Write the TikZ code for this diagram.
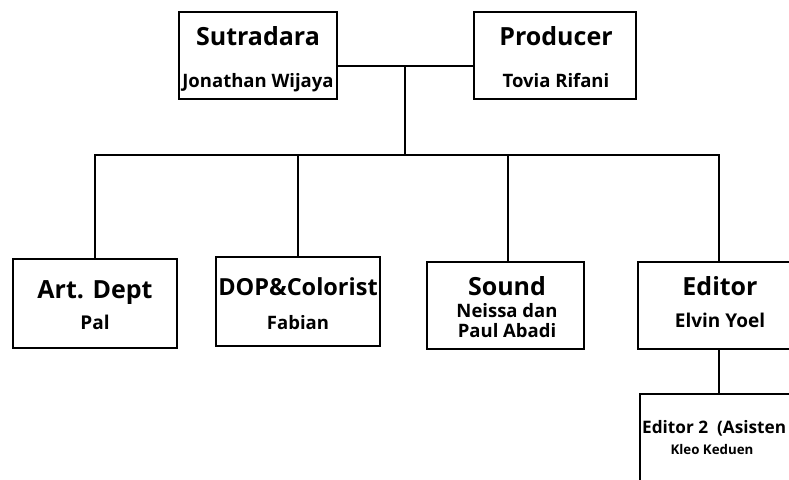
\documentclass[tikz,border=0pt]{standalone}
\usepackage{fontspec}
\setmainfont{Open Sans}
\tikzset{
  box/.style={draw=black, fill=white, line width=2.4pt, inner sep=0pt},
  ttl/.style={font=\fontsize{25}{29}\selectfont\bfseries, inner sep=0pt, anchor=base},
  sub/.style={font=\fontsize{18.5}{22}\selectfont\bfseries, inner sep=0pt, anchor=base},
  wire/.style={draw=black, line width=2.4pt}
}
\begin{document}
\begin{tikzpicture}[x=1pt, y=-1pt]
        \useasboundingbox (0,0) rectangle (789,479);
        \clip (0,0) rectangle (789,479);

        % junction points
        \coordinate (top) at (405,66);
        \coordinate (bus) at (405,155);

        % boxes
        \node[box, minimum width=158pt, minimum height=87pt] (sutradara) at (258,55.5) {};
        \node[box, minimum width=162pt, minimum height=87pt] (producer) at (555,55.5) {};
        \node[box, minimum width=164pt, minimum height=89pt] (art) at (95,303.5) {};
        \node[box, minimum width=164pt, minimum height=89pt] (dop) at (298,301.5) {};
        \node[box, minimum width=157pt, minimum height=87pt] (sound) at (505.5,305.5) {};
        \node[box, minimum width=162pt, minimum height=87pt] (editor) at (719,305.5) {};
        \node[box, minimum width=158pt, minimum height=100pt] (editorb) at (719,444) {};

        % connectors
        \draw[wire] (sutradara.east |- top) -- (producer.west |- top);
        \draw[wire] (top) -- (bus);
        \draw[wire] (art.north) -- (art.north |- bus) -- (editor.north |- bus) -- (editor.north);
        \draw[wire] (dop.north) -- (dop.north |- bus);
        \draw[wire] (sound.north -| 508,0) -- (bus -| 508,0);
        \draw[wire] (editor.south) -- (editorb.north);

        % texts
        \node[ttl] (sutradaraT) at (258,45) {Sutradara};
        \node[sub] (sutradaraN) at (258,87) {Jonathan Wijaya};
        \node[ttl] (producerT) at (556,45) {Producer};
        \node[sub] (producerN) at (556,87) {Tovia Rifani};

        \node[ttl] (artT) at (95,298) {Art. Dept};
        \node[sub, font=\fontsize{19}{22}\selectfont\bfseries] (artN) at (95,329) {Pal};
        \node[ttl, font=\fontsize{23.5}{27}\selectfont\bfseries] (dopT) at (298,295) {DOP\&Colorist};
        \node[sub] (dopN) at (298,329) {Fabian};

        \node[ttl] (soundT) at (507,295) {Sound};
        \node[sub] (soundN) at (507,317) {Neissa dan};
        \node[sub] (soundM) at (507,337) {Paul Abadi};
        \node[ttl] (editorT) at (720,295) {Editor};
        \node[sub, font=\fontsize{19}{22}\selectfont\bfseries] (editorN) at (720,327) {Elvin Yoel};

        \node[sub, font=\fontsize{17.2}{20}\selectfont\bfseries, anchor=base west] (editorbT) at (642,433) {Editor 2\ \ (Asisten};
        \node[sub, font=\fontsize{13.3}{16}\selectfont\bfseries] (editorbN) at (712,454) {Kleo Keduen};
    \end{tikzpicture}
\end{document}
